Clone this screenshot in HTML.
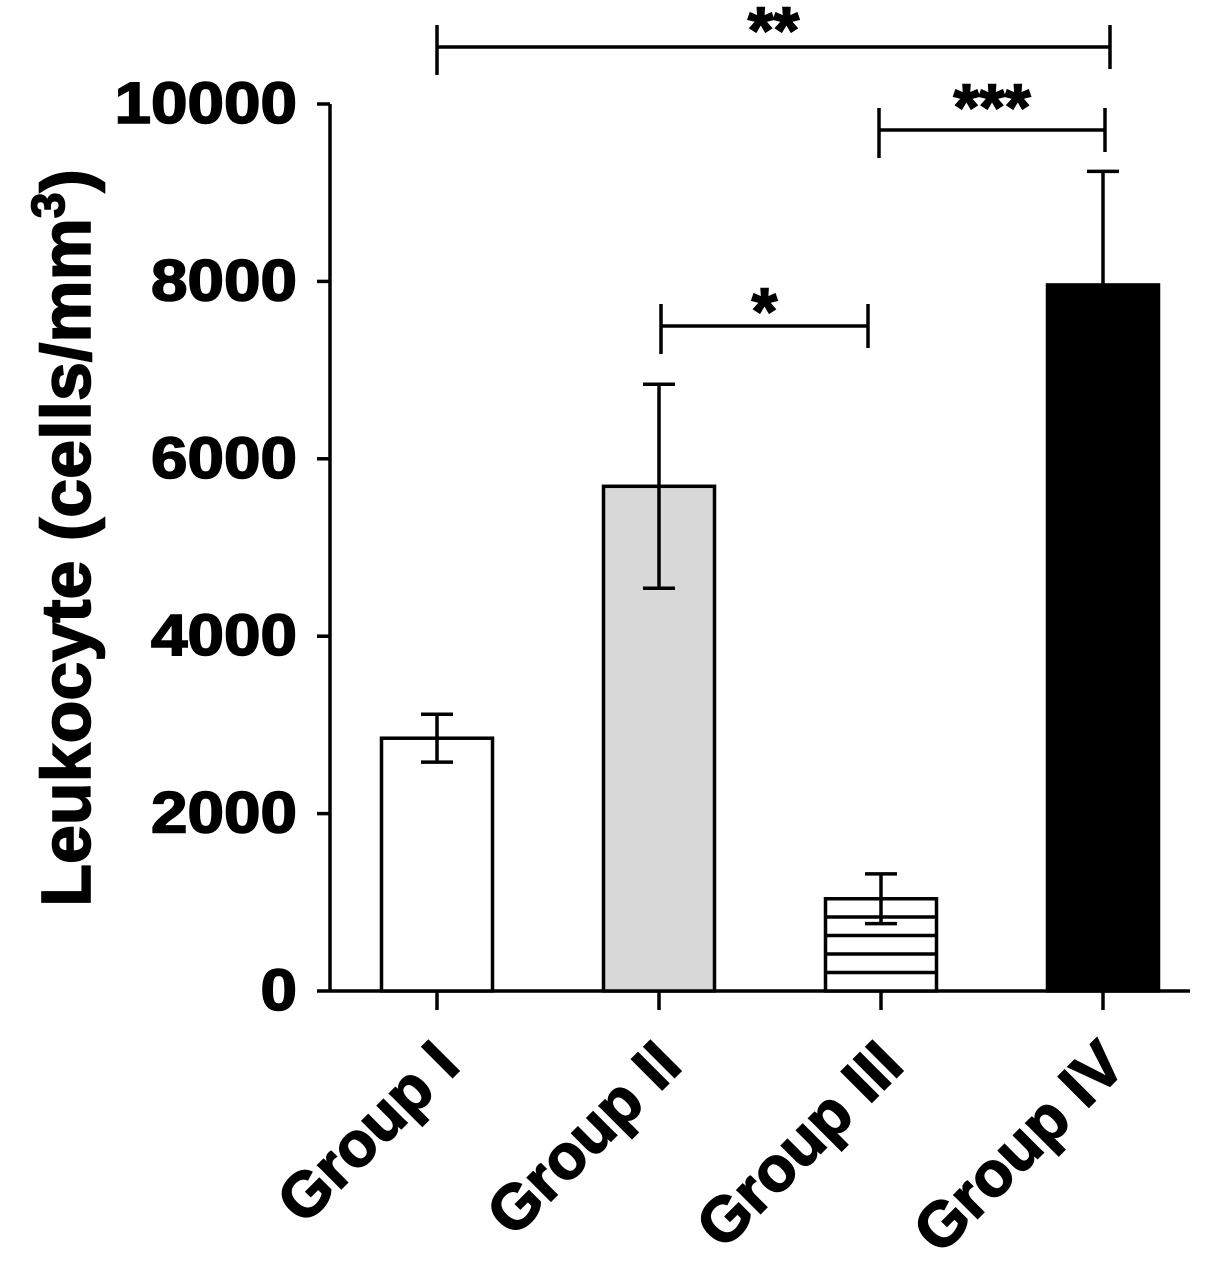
<!DOCTYPE html>
<html><head><meta charset="utf-8"><style>
html,body{margin:0;padding:0;background:#fff;}
svg text{font-family:"Liberation Sans",Arial,sans-serif;font-weight:bold;fill:#000;stroke:#000;stroke-width:1.6;}
</style></head><body>
<svg id="chart" width="1205" height="1267" viewBox="0 0 1205 1267" xmlns="http://www.w3.org/2000/svg">
<g id="axes"></g><g id="bars"></g><g id="sig"></g>
</svg>
<script>
const categories = ["Group I","Group II","Group III","Group IV"];
const values = [2850, 5690, 1040, 7960];
const errors = [270, 1150, 280, 1280];
const yTicks = [0, 2000, 4000, 6000, 8000, 10000];
const fills = ["#fff","#d8d8d8","hatch","#000"];
const sigPairs = [[0,3,"**"],[2,3,"***"],[1,2,"*"]];

const NS="http://www.w3.org/2000/svg";
const x0=330, x1=1190, yBase=991, yTop=104, yMax=10000;
const y = v => yBase - (v/yMax)*(yBase-yTop);
const xc = i => 437 + i*222;
const barW = 111;
function mk(tag, attrs, parent){const e=document.createElementNS(NS,tag);for(const k in attrs)e.setAttribute(k,attrs[k]);parent.appendChild(e);return e;}
const axes=document.getElementById('axes'), bars=document.getElementById('bars'), sig=document.getElementById('sig');

let e=mk('line',{x1:x0,y1:yTop,x2:x0,y2:yBase+1.5,stroke:'#000','stroke-width':3.5},axes);


e=mk('line',{x1:x0,y1:yBase,x2:x1,y2:yBase,stroke:'#000','stroke-width':3.5},axes);


yTicks.forEach(t=>{
  const l=mk('line',{x1:317,y1:y(t),x2:x0,y2:y(t),stroke:'#000','stroke-width':3.5},axes);
  
  
  const s=String(t);
  const tx=mk('text',{x:297,y:y(t)+19,'text-anchor':'end','font-size':58,textLength:s.length*36.5,lengthAdjust:'spacingAndGlyphs'},axes);
  tx.textContent=s;
  
  
});
const tt=mk('text',{x:0,y:0,'text-anchor':'middle','font-size':70,transform:'translate(90,538) rotate(-90)'},axes);
tt.innerHTML='Leukocyte (cells/mm<tspan dy="-26" font-size="46">3</tspan><tspan dy="26">)</tspan>';



categories.forEach((c,i)=>{
  const cx=xc(i), top=y(values[i]);
  const tk=mk('line',{x1:cx,y1:yBase,x2:cx,y2:1010,stroke:'#000','stroke-width':3.5},axes);
  
  
  const lb=mk('text',{x:0,y:0,'text-anchor':'end','font-size':63,transform:`translate(${cx+25},1068) rotate(-45)`},axes);
  lb.textContent=c;
  
  
  const f=fills[i];
  const r=mk('rect',{x:cx-barW/2,y:top,width:barW,height:yBase-top,fill:f==='hatch'?'#fff':f,stroke:'#000','stroke-width':3.5},bars);
  
  
  if(f==='hatch'){
    for(let hy=yBase-18.5; hy>top+8; hy-=18.5){
      mk('line',{x1:cx-barW/2,y1:hy,x2:cx+barW/2,y2:hy,stroke:'#000','stroke-width':3.5},bars);
    }
  }
  const eTop=y(values[i]+errors[i]), eBot=y(values[i]-errors[i]);
  const g=mk('g',{},bars);
  
  
  mk('line',{x1:cx,y1:eTop,x2:cx,y2:eBot,stroke:'#000','stroke-width':3.5},g);
  mk('line',{x1:cx-16,y1:eTop,x2:cx+16,y2:eTop,stroke:'#000','stroke-width':3.5},g);
  mk('line',{x1:cx-16,y1:eBot,x2:cx+16,y2:eBot,stroke:'#000','stroke-width':3.5},g);
});

const sigY=[47,130,326];
const starOff=[6,0,8];
sigPairs.forEach((p,k)=>{
  const a=xc(p[0])+(k===1?-2:0)-(k===2?-2:0), b=xc(p[1])+(k===0?7:2)-(k===2?15:0);
  const yy=sigY[k];
  const g=mk('g',{},sig);
  
  
  mk('line',{x1:a,y1:yy,x2:b,y2:yy,stroke:'#000','stroke-width':3.5},g);
  mk('line',{x1:a,y1:yy-22,x2:a,y2:yy+28,stroke:'#000','stroke-width':3.5},g);
  mk('line',{x1:b,y1:yy-22,x2:b,y2:yy+22,stroke:'#000','stroke-width':3.5},g);
  const t=mk('text',{x:(a+b)/2,y:yy+starOff[k],'text-anchor':'middle','font-size':66},g);
  t.textContent=p[2];
});
</script>
</body></html>
